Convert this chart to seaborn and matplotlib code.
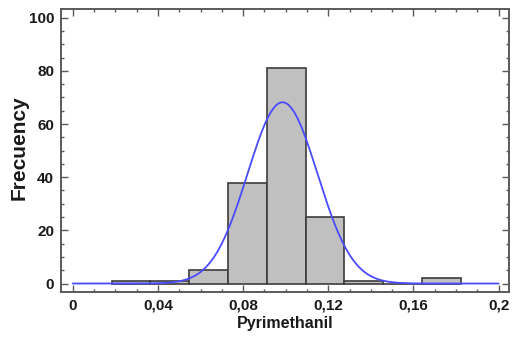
import numpy as np
import pandas as pd
import matplotlib
matplotlib.use("Agg")
import matplotlib.pyplot as plt
import seaborn as sns
from matplotlib.ticker import MultipleLocator

# ---- data ----
bin_edges = [0.0183, 0.0365, 0.0547, 0.0729, 0.0911, 0.1093, 0.1275, 0.1457, 0.1639, 0.1821]
counts = [1, 1, 5, 38, 81, 25, 1, 0, 2]
fit_mean = 0.0985
fit_sd = 0.0164
curve_x_range = [0.0, 0.2]
x_ticks = [0, 0.04, 0.08, 0.12, 0.16, 0.2]
x_tick_labels = ["0", "0,04", "0,08", "0,12", "0,16", "0,2"]
y_ticks = [0, 20, 40, 60, 80, 100]

sns.set_style("white")
plt.rcParams['font.family'] = ['Liberation Sans', 'DejaVu Sans']

fig = plt.figure(figsize=(5.13, 3.38), dpi=100)
ax = fig.add_axes([0.119, 0.136, 0.873, 0.836])

edges = np.array(bin_edges)
centers = (edges[:-1] + edges[1:]) / 2
hist_df = pd.DataFrame({"x": centers, "w": counts})
sns.histplot(data=hist_df, x="x", weights="w", bins=list(bin_edges), ax=ax,
             color="#C0C0C0", edgecolor="#3c3c3c", linewidth=1.2, alpha=1.0)

# fitted normal curve, scaled to counts
n = sum(counts)
bw = edges[1] - edges[0]
xs = np.linspace(curve_x_range[0], curve_x_range[1], 400)
ys = n * bw / (fit_sd * np.sqrt(2 * np.pi)) * np.exp(-0.5 * ((xs - fit_mean) / fit_sd) ** 2)
sns.lineplot(x=xs, y=ys, ax=ax, color="#4a4aff", linewidth=1.3)

ax.set_xlim(-0.0055, 0.2048)
ax.set_ylim(-3.2, 103.1)
ax.set_xticks(x_ticks)
ax.set_xticklabels(x_tick_labels)
ax.set_yticks(y_ticks)
ax.xaxis.set_minor_locator(MultipleLocator(0.01))
ax.yaxis.set_minor_locator(MultipleLocator(5))

frame_col = "#5a5a5a"
for s in ax.spines.values():
    s.set_visible(True)
    s.set_color(frame_col)
    s.set_linewidth(1.4)

ax.tick_params(which="both", direction="in", top=True, right=True, bottom=True, left=True,
               color=frame_col, width=1.0)
ax.tick_params(which="major", length=5, labelsize=11, pad=5, labelcolor="#1a1a1a")
ax.tick_params(which="minor", length=2.5)
for lbl in ax.get_xticklabels() + ax.get_yticklabels():
    lbl.set_fontweight("bold")

ax.set_xlabel("Pyrimethanil", fontsize=11.5, fontweight="bold", color="#1a1a1a", labelpad=2)
ax.set_ylabel("Frecuency", fontsize=15, fontweight="bold", color="#1a1a1a")
ax.yaxis.set_label_coords(-0.072, 0.51)

fig.savefig("out.png", dpi=100)
